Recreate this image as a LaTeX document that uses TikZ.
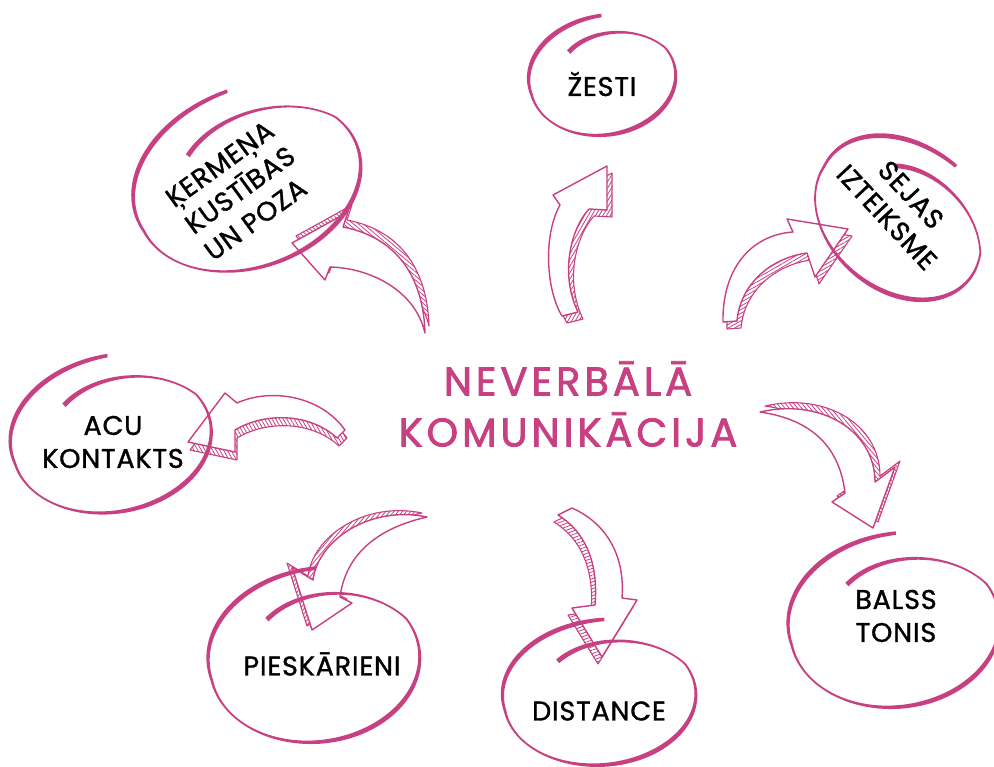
\documentclass[tikz,border=0pt]{standalone}
\usepackage{fontspec}
\setmainfont{Poppins}[FakeBold=1.2, LetterSpace=3]
\newfontfamily\titlefont{Poppins}[FakeBold=2, LetterSpace=10]
\usetikzlibrary{patterns.meta}
\definecolor{pinkc}{RGB}{199,64,129}

\tikzset{
  arrowface/.style={draw=pinkc, line width=1.4pt, fill=white, line join=round},
  arrowside/.style={draw=pinkc, line width=1.1pt, line join=round,
    pattern={Lines[angle=#1, distance=3.2pt, line width=0.8pt]}, pattern color=pinkc},
  ringtext/.style={font=\fontsize{27}{33}\selectfont, text=black, align=center, inner sep=0pt},
  titletext/.style={font=\titlefont\fontsize{40}{51}\selectfont, text=pinkc, align=center, inner sep=0pt},
}

% radius factor of the loop: starts inside, runs on the ellipse, ends outside
\pgfmathdeclarefunction{ringr}{1}{\pgfmathparse{1-0.28*max(0,1-#1/100)+0.17*max(0,(#1-300)/100)}}
% half width of the pen stroke, swelling and thinning as it goes round
\pgfmathdeclarefunction{ringw}{1}{\pgfmathparse{0.9+1.5*(0.5+0.5*cos(2*#1))}}

% hand-drawn loop: centre, radii, tilt, start angle
\newcommand{\ringloop}[6]{%
  \begin{scope}[shift={(#1,#2)}, rotate=#5]
    \fill[pinkc] plot[domain=0:400, samples=200, variable=\t]
      ({(ringr(\t)*#3+ringw(\t))*cos(\t+#6)}, {(ringr(\t)*#4+ringw(\t))*sin(\t+#6)})
      -- plot[domain=400:0, samples=200, variable=\t]
      ({(ringr(\t)*#3-ringw(\t))*cos(\t+#6)}, {(ringr(\t)*#4-ringw(\t))*sin(\t+#6)})
      -- cycle;
  \end{scope}}

% extruded block arrow: hatched back face shifted by #2, white front face on top
\newcommand{\blockarrow}[3]{%
  \draw[arrowside=#1, shift={#2}] #3;
  \draw[arrowface] #3;}

\begin{document}
\begin{tikzpicture}[x=1pt, y=-1pt]
\useasboundingbox (0,0) rectangle (994,767);

% ---- arrows from the centre outwards ----
% up to gestures
\blockarrow{60}{(5,7)}{(562,316) .. controls (546,290) and (543,235) .. (560,205)
  -- (553,195) -- (607,166) -- (607,210) -- (589,209)
  .. controls (570,230) and (560,275) .. (578,312) -- cycle}
% up-left to body movement
\blockarrow{-40}{(4,-7)}{(425,333) .. controls (424,295) and (410,240) .. (343,227)
  -- (348,212) -- (292,243) -- (325,280) -- (330,267)
  .. controls (370,268) and (415,290) .. (425,333) -- cycle}
% up-right to facial expression
\blockarrow{30}{(4,7)}{(723,322) .. controls (722,270) and (750,235) .. (793,232)
  -- (787,219) -- (848,229) -- (815,277) -- (807,253)
  .. controls (770,258) and (740,285) .. (737,321) -- cycle}
% left to eye contact
\blockarrow{-60}{(2,8)}{(345,430) .. controls (320,395) and (270,388) .. (237,403)
  -- (225,393) -- (188,442) -- (235,452) -- (235,430)
  .. controls (265,412) and (310,413) .. (337,438) -- cycle}
% down-right to tone of voice
\blockarrow{-50}{(5,-6)}{(760,412) .. controls (820,398) and (875,430) .. (875,482)
  -- (895,467) -- (873,528) -- (832,502) -- (845,493)
  .. controls (840,450) and (815,420) .. (760,412) -- cycle}
% down to distance
\blockarrow{20}{(-4,7)}{(572,508) .. controls (610,525) and (625,560) .. (622,598)
  -- (637,600) -- (602,657) -- (572,608) -- (595,605)
  .. controls (598,570) and (590,535) .. (558,515) -- cycle}
% down-left to touch
\blockarrow{50}{(-5,-4)}{(427,517) .. controls (370,505) and (318,540) .. (313,580)
  -- (292,567) -- (312,630) -- (352,603) -- (340,597)
  .. controls (345,560) and (370,530) .. (427,517) -- cycle}

% ---- loops ----
\ringloop{603}{80}{73}{55}{8}{-125}
\ringloop{249}{185}{115}{82}{20}{-125}
\ringloop{898}{221}{92}{68}{-40}{-125}
\ringloop{112}{440}{100}{72}{10}{-125}
\ringloop{895}{627}{105}{80}{6}{-125}
\ringloop{600}{698}{96}{67}{4}{-125}
\ringloop{315}{662}{105}{80}{6}{-125}

% ---- texts ----
\node[titletext] (title) at (568,404) {NEVERBĀLĀ\\KOMUNIKĀCIJA};
\node[ringtext] (zesti) at (602,84) {ŽESTI};
\node[ringtext, align=left, rotate=36] (kermena) at (240,190) {ĶERMEŅA\\KUSTĪBAS\\UN POZA};
\node[ringtext, rotate=-47] (sejas) at (899,206) {SEJAS\\IZTEIKSME};
\node[ringtext] (acu) at (113,442) {ACU\\KONTAKTS};
\node[ringtext] (balss) at (896,616) {BALSS\\TONIS};
\node[ringtext] (distance) at (599,711) {DISTANCE};
\node[ringtext] (pieskarieni) at (322,664) {PIESKĀRIENI};
\end{tikzpicture}
\end{document}
